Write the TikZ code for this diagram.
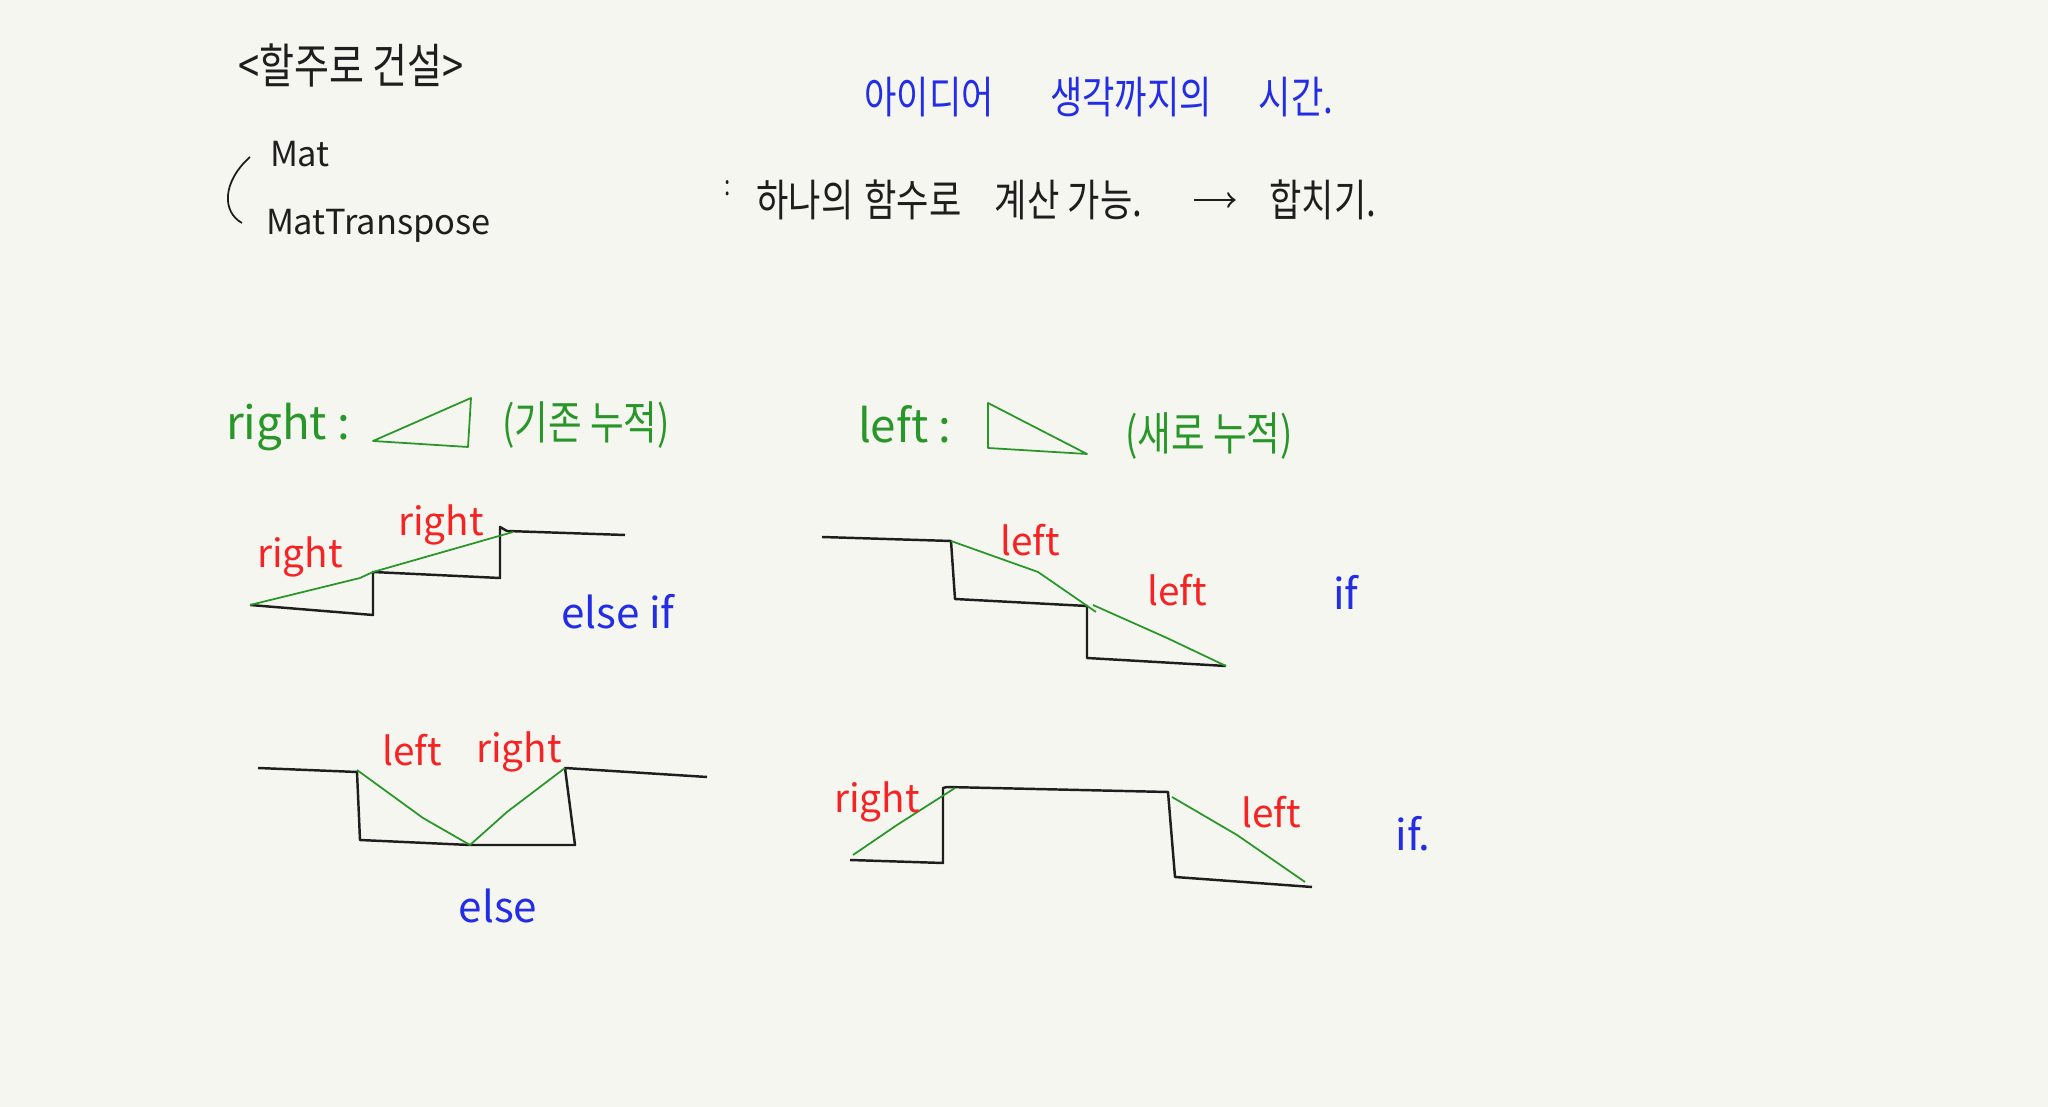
\documentclass[tikz,border=0pt]{standalone}
\usepackage{fontspec}
\newfontfamily\kor[FakeStretch=0.8]{Noto Sans CJK KR}
\newfontfamily\lat{Noto Sans CJK KR}
\definecolor{paper}{RGB}{246,246,241}
\definecolor{penblack}{RGB}{30,30,30}
\definecolor{pengreen}{RGB}{40,150,40}
\definecolor{penred}{RGB}{245,35,35}
\definecolor{penblue}{RGB}{35,45,230}

\begin{document}
\begin{tikzpicture}[x=0.01cm,y=-0.01cm,inner sep=0pt,outer sep=0pt,
stroke/.style={draw=penblack,line width=0.7pt,line join=round},
accum/.style={draw=pengreen,line width=0.5pt,line join=round},
titletxt/.style={text=penblack,font=\kor\fontsize{13.5}{15}\selectfont},
blackkor/.style={text=penblack,font=\kor\fontsize{12.5}{14}\selectfont},
bluekor/.style={text=penblue,font=\kor\fontsize{12.5}{14}\selectfont},
greenkor/.style={text=pengreen,font=\kor\fontsize{13}{15}\selectfont},
blacklat/.style={text=penblack,font=\lat\fontsize{9.8}{12}\selectfont},
greenlat/.style={text=pengreen,font=\lat\fontsize{13}{15}\selectfont},
redtxt/.style={text=penred,font=\lat\fontsize{11}{13}\selectfont},
bluetxt/.style={text=penblue,font=\lat\fontsize{12}{14}\selectfont}]

\fill[paper] (0,0) rectangle (2048,1107);

% header
\node[titletxt] (title) at (351,65) {<할주로 건설>};
\node[bluekor] (idea) at (929,97) {아이디어};
\node[bluekor] (think) at (1131,97) {생각까지의};
\node[bluekor] (time) at (1296,97) {시간.};

\node[blacklat,anchor=west] (mat) at (270,154) {Mat};
\node[blacklat,anchor=west] (mattr) at (266,226) {MatTranspose};
\draw[stroke,line width=0.5pt] (250,157) .. controls (222,182) and (222,212) .. (242,223);

\node[blackkor,font=\kor\fontsize{8}{10}\selectfont] (colon) at (728,188) {:};
\node[blackkor] (hana) at (805,200) {하나의};
\node[blackkor] (func) at (913,200) {함수로};
\node[blackkor] (calc) at (1027,200) {계산};
\node[blackkor] (able) at (1105,200) {가능.};
\node[blackkor] (merge) at (1323,200) {합치기.};
\draw[stroke,->,shorten <=0.52cm,shorten >=0.34cm] (able) -- (merge);

% legend
\node[greenlat,anchor=base west] (rlab) at (226,440) {right :};
\draw[accum] (373,441) -- (471,398) -- (468,447) -- cycle;
\node[greenkor] (rnote) at (586,425) {(기존 누적)};
\node[greenlat,anchor=base west] (llab) at (858,443) {left :};
\draw[accum] (988,403) -- (988,448) -- (1087,454) -- cycle;
\node[greenkor] (lnote) at (1209,436) {(새로 누적)};

% else if
\draw[stroke] (250,605) -- (373,615) -- (373,572) -- (500,578) -- (500,527) -- (507,531) -- (625,535);
\draw[accum] (250,605) -- (360,578) -- (373,572) -- (513,532);
\node[redtxt] (r1) at (300,557) {right};
\node[redtxt] (r2) at (441,525) {right};
\node[bluetxt] (elif) at (618,612) {else if};

% if
\draw[stroke] (822,537) -- (951,541) -- (955,599) -- (1087,606) -- (1087,658) -- (1226,666);
\draw[accum] (951,541) -- (1038,572) -- (1096,612);
\draw[accum] (1093,605) -- (1167,638) -- (1226,666);
\node[redtxt] (l1) at (1030,540) {left};
\node[redtxt] (l2) at (1177,590) {left};
\node[bluetxt] (if1) at (1346,592) {if};

% else
\draw[stroke] (258,768) -- (357,772) -- (360,840) -- (470,845) -- (575,845) -- (565,768) -- (707,777);
\draw[accum] (357,770) -- (423,818) -- (470,845) -- (507,812) -- (565,768);
\node[redtxt] (l3) at (412,750) {left};
\node[redtxt] (r3) at (519,752) {right};
\node[bluetxt] (els) at (498,906) {else};

% if.
\draw[stroke] (850,860) -- (943,863) -- (943,788) -- (947,787) -- (1168,792) -- (1175,877) -- (1312,887);
\draw[accum] (853,855) -- (897,825) -- (955,788);
\draw[accum] (1172,797) -- (1237,835) -- (1305,882);
\node[redtxt] (r4) at (877,802) {right};
\node[redtxt] (l4) at (1271,812) {left};
\node[bluetxt] (if2) at (1413,834) {if.};

\end{tikzpicture}
\end{document}
